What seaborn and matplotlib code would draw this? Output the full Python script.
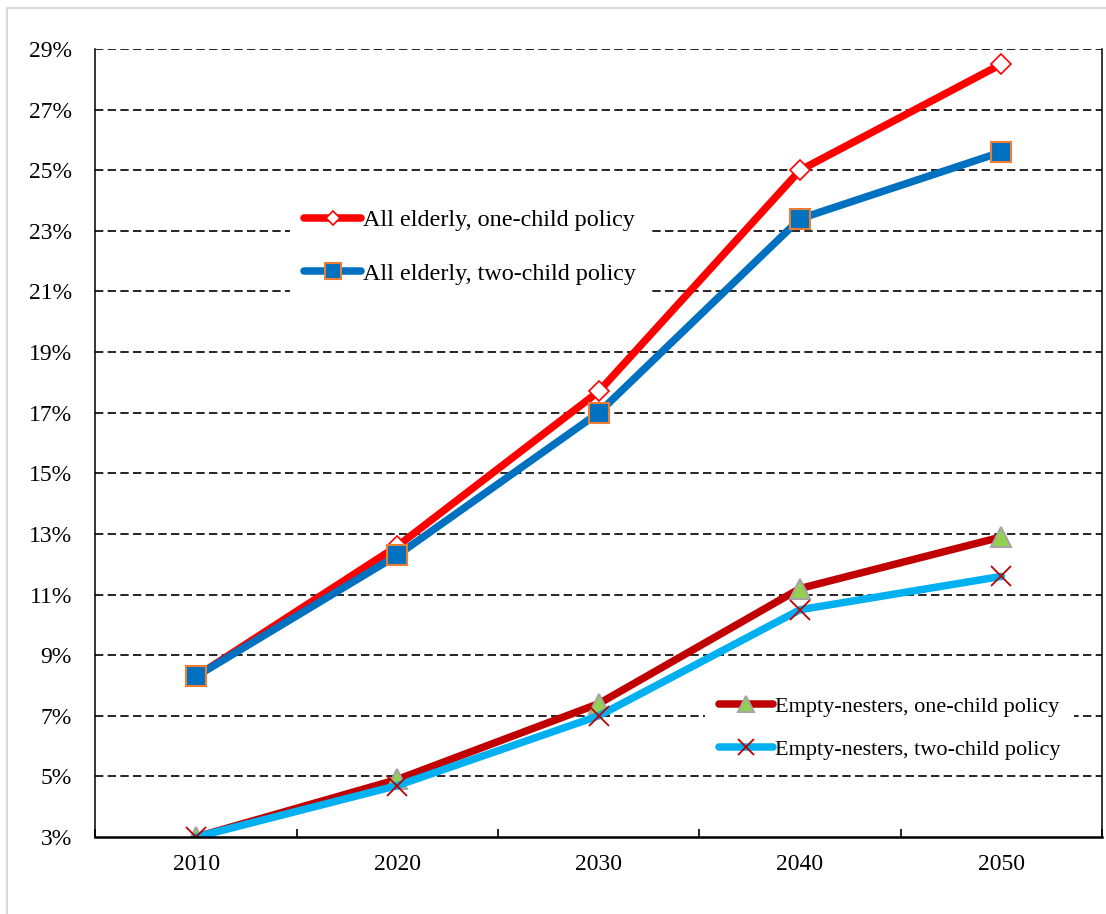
import numpy as np
import pandas as pd
import matplotlib
matplotlib.use("Agg")
import matplotlib.pyplot as plt
from matplotlib.ticker import PercentFormatter, FixedLocator
from matplotlib.patches import Rectangle
import seaborn as sns

# Share of population (%) by year
years = ["2010", "2020", "2030", "2040", "2050"]
all_one_child = [8.3, 12.6, 17.7, 25.0, 28.5]
all_two_child = [8.3, 12.3, 17.0, 23.4, 25.6]
empty_one_child = [3.0, 4.9, 7.4, 11.2, 12.9]
empty_two_child = [3.0, 4.7, 7.0, 10.5, 11.6]

labels = [
    "All elderly, one-child policy",
    "All elderly, two-child policy",
    "Empty-nesters, one-child policy",
    "Empty-nesters, two-child policy",
]

sns.set_style("white")
plt.rcParams["font.family"] = ["Liberation Serif", "DejaVu Serif"]
plt.rcParams["text.color"] = "black"
plt.rcParams["xtick.color"] = "black"
plt.rcParams["ytick.color"] = "black"
plt.rcParams["xtick.labelcolor"] = "black"
plt.rcParams["ytick.labelcolor"] = "black"

fig = plt.figure(figsize=(11.06, 9.14), dpi=100)
ax = fig.add_axes([0.0863, 0.0842, 0.9101, 0.8622])

xpos = np.arange(len(years))

styles = [
    dict(color="#FF0000", marker="D", markersize=10, markerfacecolor="white",
         markeredgecolor="#FF0000", markeredgewidth=1.2),
    dict(color="#0070C0", marker="s", markersize=15, markerfacecolor="#0070C0",
         markeredgecolor="#ED7D31", markeredgewidth=1.5),
    dict(color="#C00000", marker="^", markersize=15, markerfacecolor="#92D050",
         markeredgecolor="#A5A5A5", markeredgewidth=1.5),
    dict(color="#00B0F0", marker="x", markersize=15,
         markeredgecolor="#C00000", markeredgewidth=1.3),
]
series = [all_one_child, all_two_child, empty_one_child, empty_two_child]

handles = []
for vals, st, lab in zip(series, styles, labels):
    sns.lineplot(x=xpos, y=vals, ax=ax, linewidth=5.4, legend=False,
                 solid_capstyle="round", zorder=3, **st)
    handles.append(ax.lines[-1])

# Axes ranges and ticks
ax.set_xlim(-0.5, len(years) - 0.5)
ax.set_ylim(3, 29)
ax.set_yticks(np.arange(3, 30, 2))
ax.yaxis.set_major_formatter(PercentFormatter(decimals=0))
ax.set_xticks(xpos)
ax.set_xticklabels(years)
ax.xaxis.set_minor_locator(FixedLocator(np.arange(-0.5, len(years), 1.0)))
ax.tick_params(axis="x", which="major", length=0, pad=12, labelsize=17)
ax.tick_params(axis="x", which="minor", direction="in", length=6, width=1.2,
               color="black", bottom=True)
ax.tick_params(axis="y", length=0, pad=17, labelsize=17)
ax.set_xlabel("")
ax.set_ylabel("")

# Dashed horizontal gridlines
ax.grid(False)
for yv in np.arange(5, 30, 2):
    ax.axhline(yv, color="black", lw=1.2, ls=(0, (5, 2.6)), zorder=1)

for side in ["left", "right", "bottom"]:
    ax.spines[side].set_visible(True)
    ax.spines[side].set_color("black")
    ax.spines[side].set_zorder(6)
ax.spines["left"].set_linewidth(1.1)
ax.spines["right"].set_linewidth(1.1)
ax.spines["bottom"].set_linewidth(1.8)
ax.spines["top"].set_visible(False)

leg_kw = dict(frameon=True, facecolor="white", edgecolor="none", framealpha=1,
              fancybox=False, handletextpad=0.1,
              markerscale=0.75, numpoints=1, borderaxespad=0, borderpad=0.6)

leg1 = ax.legend(handles[:2], labels[:2], loc="upper left",
                 bbox_to_anchor=(0.193, 0.815), labelspacing=1.3,
                 fontsize=17.4, handlelength=2.35, **leg_kw)
leg1.set_zorder(5)
ax.add_artist(leg1)
leg2 = ax.legend(handles[2:], labels[2:], loc="upper left",
                 bbox_to_anchor=(0.606, 0.195), labelspacing=0.98,
                 fontsize=16, handlelength=2.45, **leg_kw)
leg2.set_zorder(5)

# Light outer frame around the chart area
fig.patches.append(Rectangle((0.0063, -0.02), 1.05, 1.0112,
                             transform=fig.transFigure, fill=False,
                             edgecolor="#D9D9D9", linewidth=1.5))

fig.savefig("out.png", dpi=100)
